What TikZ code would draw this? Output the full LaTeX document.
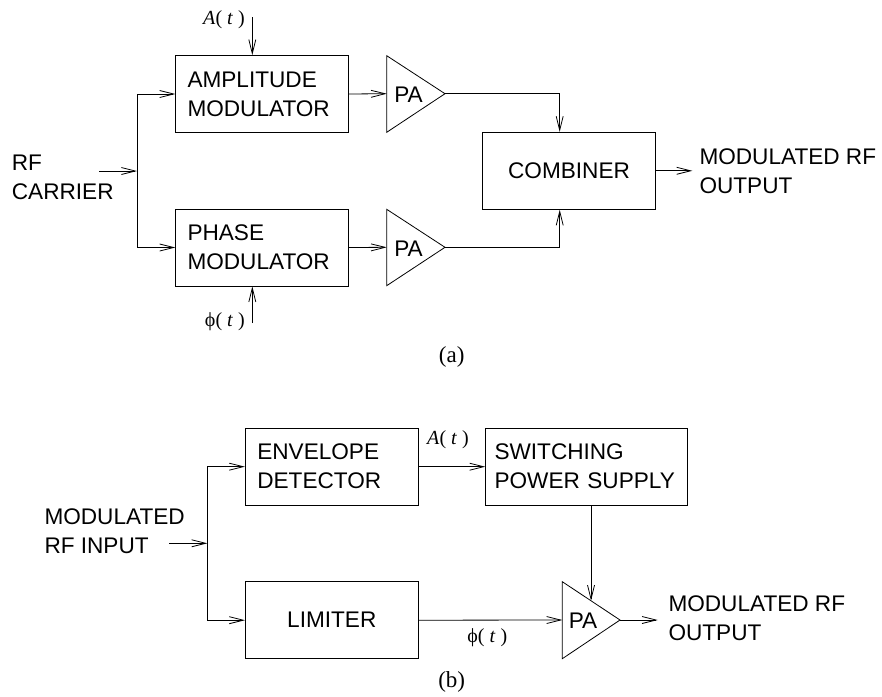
\documentclass[tikz,border=0pt]{standalone}
\usepackage{fontspec}
\setmainfont{Liberation Serif}
\newfontfamily\blocksans{Liberation Sans}
\newfontfamily\sigserif{Liberation Serif}
\usetikzlibrary{arrows.meta,calc}
\newcommand{\gapsp}{\hspace{0.25em}}
\begin{document}
\begin{tikzpicture}[x=1pt,y=-1pt,
  blk/.style={draw, line width=0.8pt, minimum height=76.8pt, inner sep=0pt,
    font=\blocksans\fontsize{22.6}{29}\selectfont},
  lbl/.style={inner sep=0pt, anchor=west, align=left,
    font=\blocksans\fontsize{22.6}{29}\selectfont},
  patext/.style={inner sep=0pt, font=\blocksans\fontsize{22.6}{29}\selectfont},
  sig/.style={inner sep=0pt, font=\sigserif\fontsize{20}{24}\selectfont},
  captxt/.style={inner sep=0pt, font=\sigserif\fontsize{23}{26}\selectfont},
  arr/.style={-{Straight Barb[length=14pt,width=7pt]}, line width=0.8pt},
  tri/.style={draw, line width=0.8pt, line join=miter}
]
\useasboundingbox (0,0) rectangle (882,696);

% ---------------- (a) ----------------
\node[blk, minimum width=172.6pt, text width=149pt, align=left] (am) at (262,94) {AMPLITUDE\\MODULATOR};
\node[blk, minimum width=172.6pt, text width=149pt, align=left] (pm) at (262,247.5) {PHASE\\MODULATOR};
\node[blk, minimum width=173.4pt, minimum height=77pt, align=center] (comb) at (569,170.8) {COMBINER};

\coordinate (pa1a) at (386.7,55.7);
\coordinate (pa1b) at (386.7,132.3);
\coordinate (pa1tip) at (445,93.7);
\coordinate (pa1in) at (386.7,93.7);
\draw[tri] (pa1a) -- (pa1tip) -- (pa1b) -- cycle;
\node[patext] (pa1) at (408.5,95) {PA};

\coordinate (pa2a) at (386.7,209.3);
\coordinate (pa2b) at (386.7,285.7);
\coordinate (pa2tip) at (445,247.3);
\coordinate (pa2in) at (386.7,247.3);
\draw[tri] (pa2a) -- (pa2tip) -- (pa2b) -- cycle;
\node[patext] (pa2) at (408.5,248.5) {PA};

\node[lbl] (rfc) at (11.7,177.5) {RF\\CARRIER};
\coordinate (rfin) at (99,171);
\coordinate (j1) at (137,171);
\draw[arr] (rfin) -- (j1);
\draw[arr] (j1) |- (am.west);
\draw[arr] (j1) |- (pm.west);

\coordinate (atop) at (252.3,17);
\draw[arr] (atop) -- (atop |- am.north);
\node[sig, anchor=east] (alab) at (245,20) {\textit{A}(\gapsp\textit{t}\gapsp)};

\coordinate (pbot) at (252.3,323);
\draw[arr] (pbot) -- (pbot |- pm.south);
\node[sig, anchor=east] (plab) at (245,322) {\symbol{"03D5}(\gapsp\textit{t}\gapsp)};

\draw[arr] (am.east) -- (pa1in);
\draw[arr] (pm.east) -- (pa2in);

\coordinate (cn) at ($(comb.north)+(-9.3,0)$);
\coordinate (cs) at ($(comb.south)+(-9.3,0)$);
\draw[arr] (pa1tip) -| (cn);
\draw[arr] (pa2tip) -| (cs);

\coordinate (outa) at (692.3,170.8);
\draw[arr] (comb.east) -- (outa);
\node[lbl] (outatext) at (699.3,171) {MODULATED RF\\OUTPUT};

\node[captxt] (capa) at (451.7,357) {(a)};

% ---------------- (b) ----------------
\node[blk, minimum width=173pt, text width=149pt, align=left] (env) at (331.8,466.7) {ENVELOPE\\DETECTOR};
\node[blk, minimum width=173pt, align=center] (lim) at (331.8,620.2) {LIMITER};
\node[blk, minimum width=201.6pt, text width=184pt, align=left] (sw) at (586.5,466.7) {SWITCHING\\POWER SUPPLY};

\coordinate (pa3a) at (562.3,581.7);
\coordinate (pa3b) at (562.3,658.7);
\coordinate (pa3tip) at (620,620);
\coordinate (pa3in) at (562.3,620);
\draw[tri] (pa3a) -- (pa3tip) -- (pa3b) -- cycle;
\node[patext] (pa3) at (583,621) {PA};

\node[lbl] (rfintext) at (44.3,531) {MODULATED\\RF INPUT};
\coordinate (inb) at (169.3,543.3);
\coordinate (j2) at (207.3,543.3);
\draw[arr] (inb) -- (j2);
\draw[arr] (j2) |- (env.west);
\draw[arr] (j2) |- (lim.west);

\draw[arr] (env.east) -- (sw.west);
\node[sig] (alab2) at (448,439.3) {\textit{A}(\gapsp\textit{t}\gapsp)};

\coordinate (pa3hit) at ($(pa3a)!0.4974!(pa3tip)$);
\draw[arr] (sw.south -| pa3hit) -- (pa3hit);

\draw[arr] (lim.east) -- (pa3in);
\node[sig] (plab2) at (487.3,637.3) {\symbol{"03D5}(\gapsp\textit{t}\gapsp)};

\coordinate (outb) at (657.7,620);
\draw[arr] (pa3tip) -- (outb);
\node[lbl] (outbtext) at (668.3,618) {MODULATED RF\\OUTPUT};

\node[captxt] (capb) at (451.7,681.7) {(b)};
\end{tikzpicture}
\end{document}
